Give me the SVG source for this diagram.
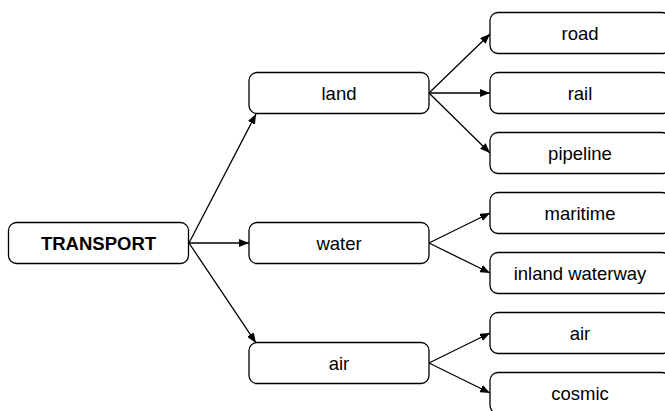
<svg xmlns="http://www.w3.org/2000/svg" width="665" height="411" viewBox="0 0 665 411">
<defs>
<marker id="arr" viewBox="0 0 10 8" refX="10" refY="4" markerWidth="10" markerHeight="8" markerUnits="userSpaceOnUse" orient="auto">
<path d="M0,0 L10,4 L0,8 Z" fill="#000"/>
</marker>
<style>
.box{fill:#fff;stroke:#000;stroke-width:1.3}
.t{font-family:"Liberation Sans",Arial,sans-serif;font-size:18.5px;fill:#000;text-anchor:middle;dominant-baseline:central}
.b{font-weight:bold}
.c{stroke:#000;stroke-width:1.3;fill:none;marker-end:url(#arr)}
</style>
</defs>
<rect width="665" height="411" fill="#fff"/>
<g id="connectors">
<line class="c" x1="189" y1="243" x2="256" y2="114"/>
<line class="c" x1="189" y1="243" x2="249" y2="243"/>
<line class="c" x1="189" y1="243" x2="256" y2="343"/>
<line class="c" x1="429" y1="93" x2="490" y2="34"/>
<line class="c" x1="429" y1="93" x2="490" y2="93"/>
<line class="c" x1="429" y1="93" x2="490" y2="153"/>
<line class="c" x1="429" y1="243" x2="490" y2="213"/>
<line class="c" x1="429" y1="243" x2="490" y2="273"/>
<line class="c" x1="429" y1="363" x2="490" y2="333"/>
<line class="c" x1="429" y1="363" x2="490" y2="393"/>
</g>
<g id="transport"><rect class="box" x="8.5" y="222.5" width="180" height="41" rx="8"/><text class="t b" x="98.5" y="243">TRANSPORT</text></g>
<g id="land"><rect class="box" x="249" y="72.5" width="180" height="41" rx="8"/><text class="t" x="339" y="93">land</text></g>
<g id="water"><rect class="box" x="249" y="222.5" width="180" height="41" rx="8"/><text class="t" x="339" y="243">water</text></g>
<g id="air"><rect class="box" x="249" y="342.5" width="180" height="41" rx="8"/><text class="t" x="339" y="363">air</text></g>
<g id="road"><rect class="box" x="490" y="12.5" width="180" height="41" rx="8"/><text class="t" x="580" y="33">road</text></g>
<g id="rail"><rect class="box" x="490" y="72.5" width="180" height="41" rx="8"/><text class="t" x="580" y="93">rail</text></g>
<g id="pipeline"><rect class="box" x="490" y="132.5" width="180" height="41" rx="8"/><text class="t" x="580" y="153">pipeline</text></g>
<g id="maritime"><rect class="box" x="490" y="192.5" width="180" height="41" rx="8"/><text class="t" x="580" y="213">maritime</text></g>
<g id="inland-waterway"><rect class="box" x="490" y="252.5" width="180" height="41" rx="8"/><text class="t" x="580" y="273">inland waterway</text></g>
<g id="air-leaf"><rect class="box" x="490" y="312.5" width="180" height="41" rx="8"/><text class="t" x="580" y="333">air</text></g>
<g id="cosmic"><rect class="box" x="490" y="372.5" width="180" height="41" rx="8"/><text class="t" x="580" y="393">cosmic</text></g>
</svg>
